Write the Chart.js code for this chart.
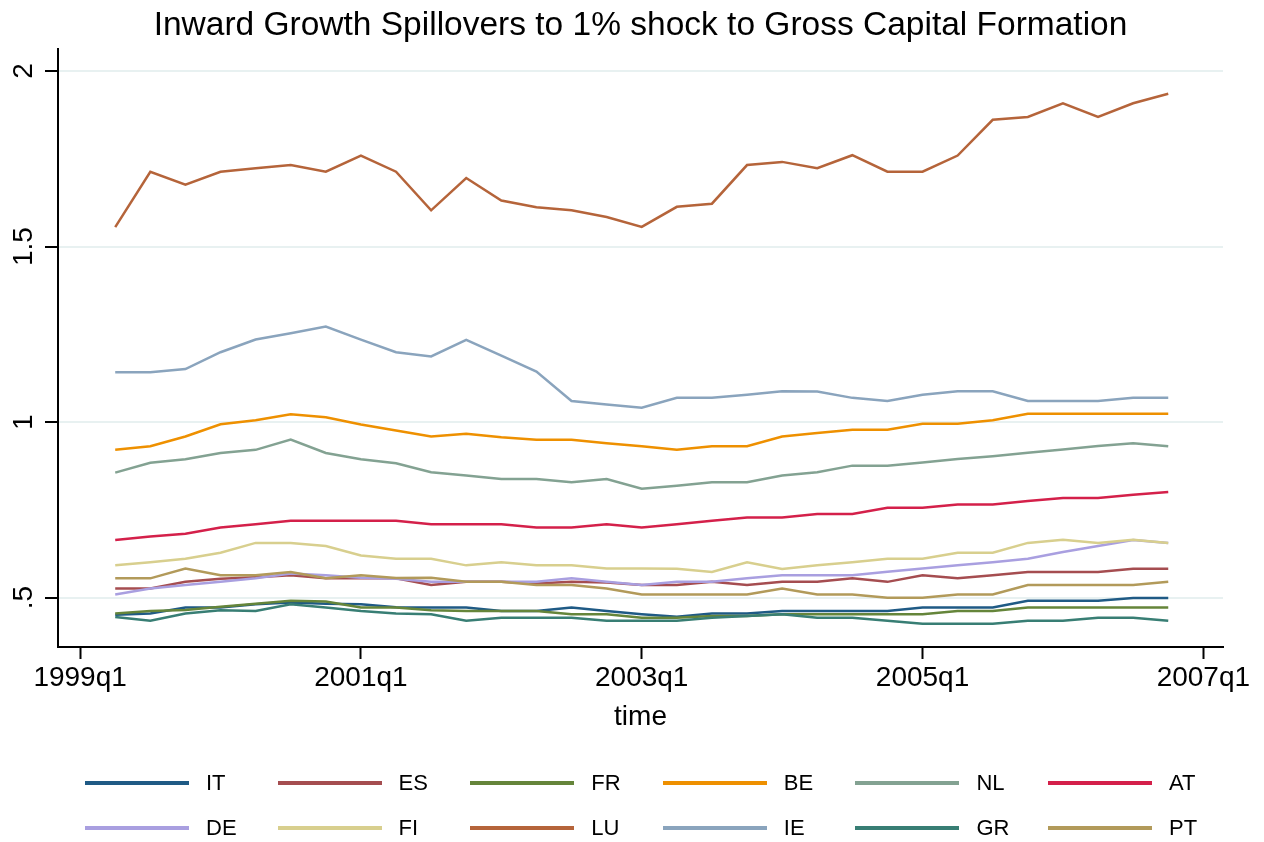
<!DOCTYPE html>
<html>
<head>
<meta charset="utf-8">
<title>Inward Growth Spillovers</title>
<script src="https://cdn.jsdelivr.net/npm/chart.js@4.4.1/dist/chart.umd.min.js"></script>
<style>
  body { margin: 0; background: #fff; }
  #wrap { position: relative; width: 1264px; height: 842px; }
  #legend { position: absolute; left: 0; top: 0; width: 1264px; height: 842px; pointer-events: none;
            font-family: "Liberation Sans", Arial, Helvetica, sans-serif; font-size: 22px; color: #000; }
  .item { position: absolute; height: 30px; line-height: 30px; }
  .swatch { position: absolute; left: 0; top: 13px; width: 104px; height: 4px; }
  .lab { position: absolute; left: 121px; top: 0; white-space: nowrap; }
</style>
</head>
<body>
<div id="wrap">
  <canvas id="myChart" width="1264" height="842"></canvas>
  <div id="legend"></div>
</div>
<script>
// quarters of the series (1999q2 .. 2006q4)
var quarters = ['1999q2','1999q3','1999q4','2000q1','2000q2','2000q3','2000q4','2001q1','2001q2','2001q3',
                '2001q4','2002q1','2002q2','2002q3','2002q4','2003q1','2003q2','2003q3','2003q4','2004q1',
                '2004q2','2004q3','2004q4','2005q1','2005q2','2005q3','2005q4','2006q1','2006q2','2006q3','2006q4'];

var xTickPos = [0, 8, 16, 24, 32];
var xTickLabels = ['1999q1', '2001q1', '2003q1', '2005q1', '2007q1'];
var yTicks = [0.5, 1, 1.5, 2];
var yTickLabels = ['.5', '1', '1.5', '2'];

var countries = ['IT', 'ES', 'FR', 'BE', 'NL', 'AT', 'DE', 'FI', 'LU', 'IE', 'GR', 'PT'];
var colors = ['#1f5a85', '#a54d50', '#65853a', '#ee9000', '#83a292', '#d4204a',
              '#a99fe0', '#d8cf8e', '#b5643a', '#8aa4bd', '#387e74', '#b29a5a'];

var IT = [.451,.455,.472,.472,.481,.486,.483,.481,.473,.472,.472,.462,.462,.472,.462,.453,.446,.455,.455,.462,.462,.462,.462,.472,.472,.472,.491,.491,.491,.499,.499];
var ES = [.526,.526,.545,.554,.558,.564,.555,.555,.555,.536,.545,.545,.540,.545,.543,.536,.536,.545,.536,.545,.545,.555,.545,.564,.555,.564,.573,.573,.573,.582,.582];
var FR = [.455,.462,.465,.474,.483,.491,.489,.472,.472,.464,.462,.462,.462,.453,.453,.443,.443,.448,.448,.453,.453,.453,.453,.453,.462,.462,.472,.472,.472,.472,.472];
var BE = [.921,.931,.959,.994,1.005,1.022,1.014,.993,.976,.959,.967,.957,.950,.950,.940,.931,.921,.931,.931,.959,.969,.978,.978,.995,.995,1.005,1.024,1.024,1.024,1.024,1.024];
var NL = [.856,.884,.894,.912,.921,.950,.912,.894,.883,.857,.848,.838,.838,.829,.838,.810,.819,.829,.829,.848,.857,.876,.876,.885,.895,.903,.913,.922,.932,.940,.931];
var AT = [.664,.674,.682,.700,.709,.719,.719,.719,.719,.709,.709,.709,.700,.700,.709,.700,.709,.719,.728,.728,.738,.738,.756,.756,.765,.765,.775,.784,.784,.793,.801];
var DE = [.509,.526,.536,.545,.555,.569,.564,.557,.554,.545,.545,.545,.545,.555,.545,.536,.545,.545,.555,.564,.564,.564,.574,.583,.592,.601,.611,.630,.647,.664,.656];
var FI = [.592,.601,.611,.628,.656,.656,.647,.620,.611,.611,.592,.601,.592,.592,.583,.583,.582,.573,.601,.582,.592,.601,.611,.611,.628,.628,.656,.665,.656,.665,.656];
var LU = [1.555,1.713,1.676,1.713,1.723,1.732,1.713,1.759,1.713,1.603,1.695,1.631,1.612,1.603,1.584,1.556,1.613,1.622,1.732,1.741,1.723,1.760,1.713,1.713,1.759,1.861,1.869,1.908,1.869,1.908,1.935];
var IE = [1.142,1.142,1.151,1.199,1.235,1.253,1.272,1.235,1.199,1.187,1.234,1.189,1.144,1.060,1.050,1.041,1.069,1.069,1.078,1.088,1.087,1.069,1.060,1.078,1.088,1.088,1.060,1.060,1.060,1.069,1.069];
var GR = [.445,.434,.455,.464,.462,.481,.472,.462,.455,.453,.434,.443,.443,.443,.434,.434,.434,.443,.448,.453,.443,.443,.434,.426,.426,.426,.434,.434,.443,.443,.434];
var PT = [.555,.555,.583,.564,.564,.573,.555,.564,.556,.557,.545,.545,.536,.536,.526,.509,.509,.509,.509,.526,.509,.509,.500,.500,.509,.509,.536,.536,.536,.536,.545];

var series = [IT, ES, FR, BE, NL, AT, DE, FI, LU, IE, GR, PT];

// quarter label -> quarters since 1999q1
function qIndex(q) {
  return (parseInt(q.slice(0, 4)) - 1999) * 4 + parseInt(q.slice(5)) - 1;
}

var FONT = '"Liberation Sans", Arial, Helvetica, sans-serif';

var datasets = [];
for (var i = 0; i < series.length; i++) {
  datasets.push({
    label: countries[i],
    data: series[i].map(function (v, j) { return { x: qIndex(quarters[j]), y: v }; }),
    borderColor: colors[i],
    backgroundColor: colors[i],
    borderWidth: 2.5,
    pointRadius: 0,
    tension: 0,
    fill: false,
    order: series.length - i   // later series drawn on top, like Stata
  });
}

var ctx = document.getElementById('myChart').getContext('2d');
var myChart = new Chart(ctx, {
  type: 'line',
  data: { datasets: datasets },
  options: {
    responsive: false,
    animation: false,
    layout: { padding: { left: 0, right: 41, top: 0, bottom: 108.2 } },
    plugins: {
      legend: { display: false },
      tooltip: { enabled: false },
      title: {
        display: true,
        fullSize: false,   // centre over the plot area
        text: 'Inward Growth Spillovers to 1% shock to Gross Capital Formation',
        color: '#000',
        font: { family: FONT, size: 33.5, weight: 'normal', lineHeight: 1.2 },
        padding: { top: 5.5, bottom: 3.3 }
      }
    },
    scales: {
      x: {
        type: 'linear',
        min: -0.63,
        max: 32.56,
        afterBuildTicks: function (scale) {
          scale.ticks = xTickPos.map(function (v) { return { value: v }; });
        },
        ticks: {
          color: '#000',
          font: { family: FONT, size: 28, lineHeight: 1.2 },
          padding: 2,
          maxRotation: 0,
          autoSkip: false,
          callback: function (value, index) { return xTickLabels[index]; }
        },
        grid: {
          drawOnChartArea: false,
          drawTicks: true,
          tickLength: 12,
          tickColor: '#000',
          tickWidth: 2
        },
        border: { display: true, color: '#000', width: 2 },
        title: {
          display: true,
          text: 'time',
          color: '#000',
          font: { family: FONT, size: 28, lineHeight: 1.2 },
          padding: { top: 3.6, bottom: 0 }
        }
      },
      y: {
        min: 0.3595,
        max: 2.0625,
        afterBuildTicks: function (scale) {
          scale.ticks = yTicks.map(function (v) { return { value: v }; });
        },
        afterFit: function (scale) { scale.width = 58; },
        ticks: {
          color: '#000',
          font: { family: FONT, size: 28, lineHeight: 1.2 },
          minRotation: 90,
          maxRotation: 90,
          crossAlign: 'center',
          padding: 1,
          autoSkip: false,
          callback: function (value, index) { return yTickLabels[index]; }
        },
        grid: {
          color: '#e8f1f1',
          lineWidth: 2,
          drawTicks: true,
          tickLength: 13,
          tickColor: '#000',
          tickWidth: 2
        },
        border: { display: true, color: '#000', width: 2 }
      }
    }
  }
});

// legend in fixed columns, two rows
var legend = document.getElementById('legend');
for (var k = 0; k < countries.length; k++) {
  var col = k % 6, row = Math.floor(k / 6);
  var item = document.createElement('div');
  item.className = 'item';
  item.style.left = (85 + col * 192.6) + 'px';
  item.style.top = (783 + row * 45 - 15) + 'px';
  var sw = document.createElement('div');
  sw.className = 'swatch';
  sw.style.background = colors[k];
  var lab = document.createElement('div');
  lab.className = 'lab';
  lab.appendChild(document.createTextNode(countries[k]));
  item.appendChild(sw);
  item.appendChild(lab);
  legend.appendChild(item);
}
</script>
</body>
</html>
